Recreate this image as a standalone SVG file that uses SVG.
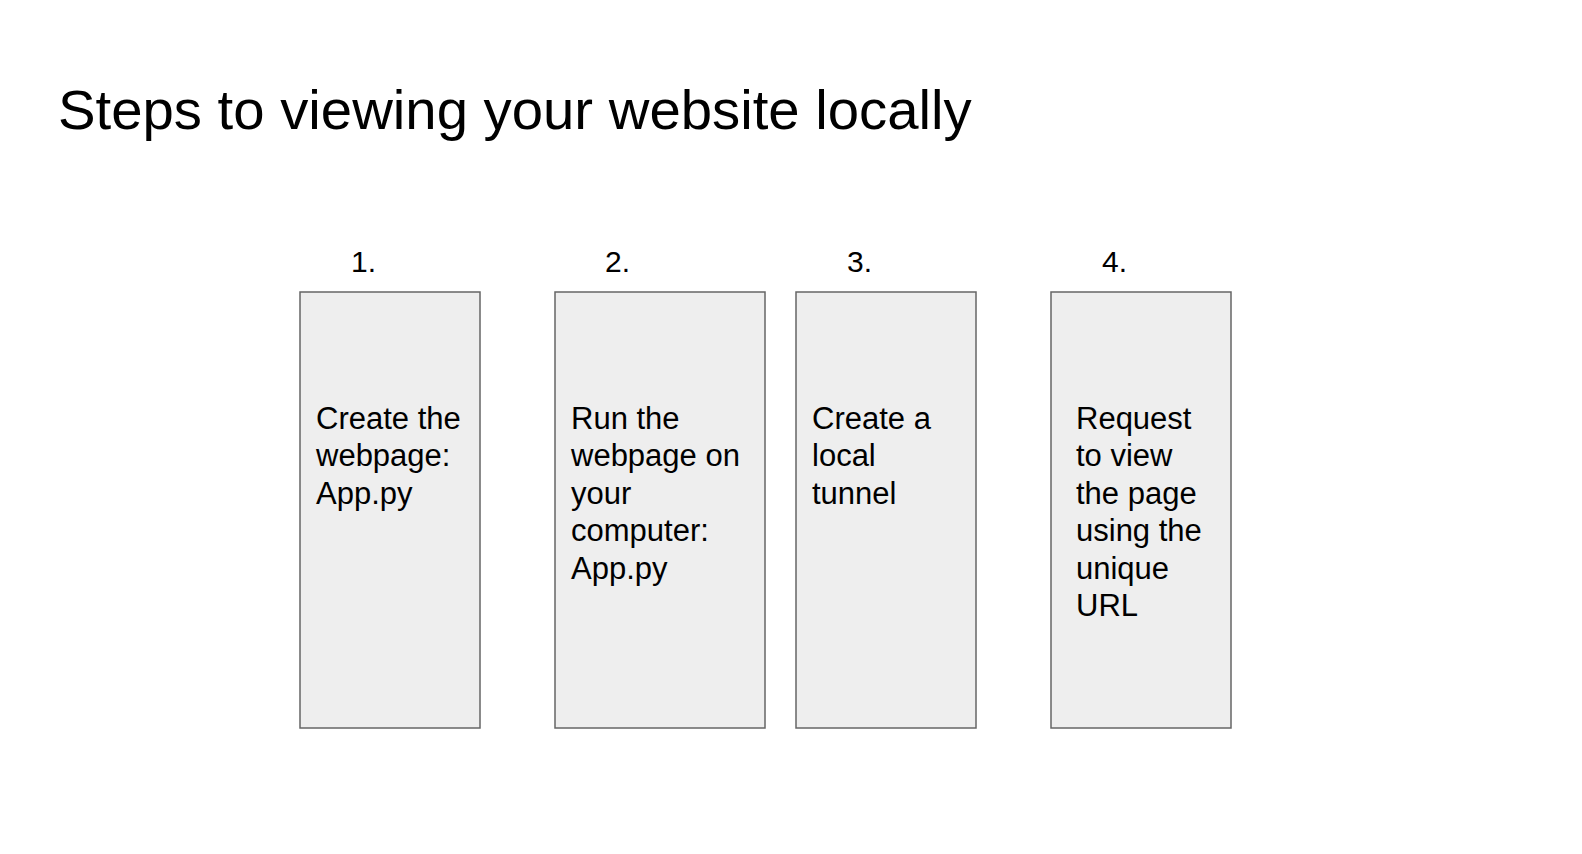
<svg xmlns="http://www.w3.org/2000/svg" width="1582" height="854" viewBox="0 0 1582 854">
  <style>
    text { font-family: "Liberation Sans", Arial, sans-serif; fill: #000000; }
    .title { font-size: 56.3px; }
    .num { font-size: 30px; }
    .label { font-size: 31px; }
    .box { fill: #eeeeee; stroke: #666666; stroke-width: 1.5; }
  </style>
  <rect width="1582" height="854" fill="#ffffff"/>

  <text class="title" x="58" y="128.5">Steps to viewing your website locally</text>

  <g id="step1">
    <text class="num" x="351" y="272">1.</text>
    <rect class="box" x="300" y="292" width="180" height="436"/>
    <text class="label" x="316" y="428.5">
      <tspan x="316">Create the</tspan>
      <tspan x="316" dy="37.5">webpage:</tspan>
      <tspan x="316" dy="37.5">App.py</tspan>
    </text>
  </g>

  <g id="step2">
    <text class="num" x="605" y="272">2.</text>
    <rect class="box" x="555" y="292" width="210" height="436"/>
    <text class="label" x="571" y="428.5">
      <tspan x="571">Run the</tspan>
      <tspan x="571" dy="37.5">webpage on</tspan>
      <tspan x="571" dy="37.5">your</tspan>
      <tspan x="571" dy="37.5">computer:</tspan>
      <tspan x="571" dy="37.5">App.py</tspan>
    </text>
  </g>

  <g id="step3">
    <text class="num" x="847" y="272">3.</text>
    <rect class="box" x="796" y="292" width="180" height="436"/>
    <text class="label" x="812" y="428.5">
      <tspan x="812">Create a</tspan>
      <tspan x="812" dy="37.5">local</tspan>
      <tspan x="812" dy="37.5">tunnel</tspan>
    </text>
  </g>

  <g id="step4">
    <text class="num" x="1102" y="272">4.</text>
    <rect class="box" x="1051" y="292" width="180" height="436"/>
    <text class="label" x="1076" y="428.5">
      <tspan x="1076">Request</tspan>
      <tspan x="1076" dy="37.5">to view</tspan>
      <tspan x="1076" dy="37.5">the page</tspan>
      <tspan x="1076" dy="37.5">using the</tspan>
      <tspan x="1076" dy="37.5">unique</tspan>
      <tspan x="1076" dy="37.5">URL</tspan>
    </text>
  </g>

  <g id="connectors"></g>
</svg>
